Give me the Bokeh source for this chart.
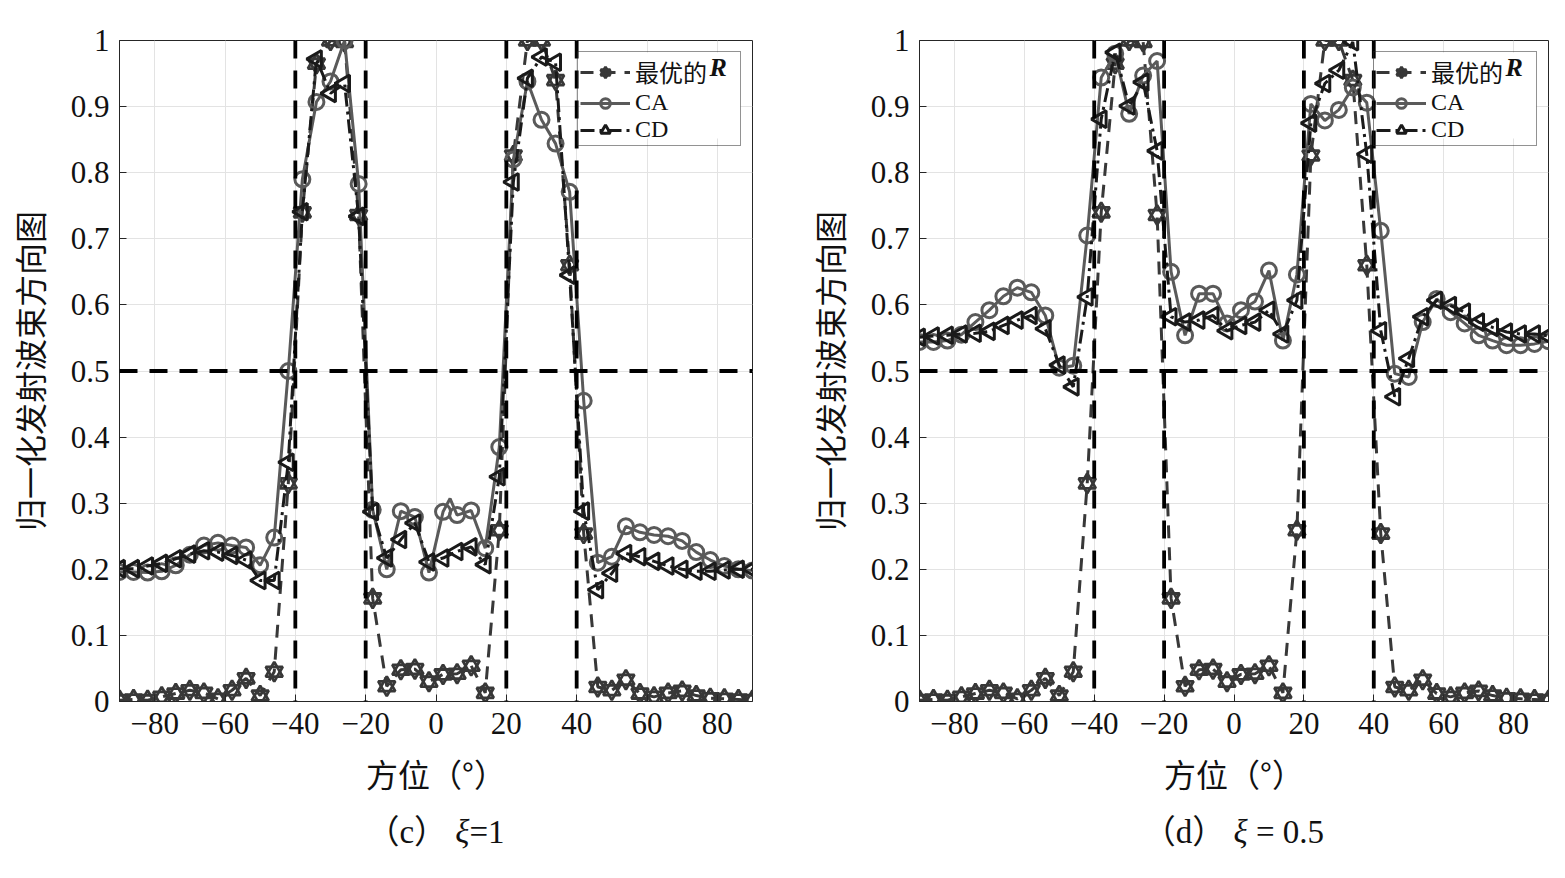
from bokeh.plotting import figure
from bokeh.models import (Range1d, FixedTicker, Legend, LegendItem, Label, BoxAnnotation,
                          Span, Div, ColumnDataSource)
from bokeh.layouts import row, column
from bokeh.embed import file_html
from bokeh.resources import INLINE

# ---------------- data ----------------
THETA = [-90, -86, -82, -78, -74, -70, -66, -62, -58, -54, -50, -46, -42, -38, -34, -30,
         -26, -22, -18, -14, -10, -6, -2, 2, 6, 10, 14, 18, 22, 26, 30, 34, 38, 42, 46,
         50, 54, 58, 62, 66, 70, 74, 78, 82, 86, 90]

# optimal R (same in both panels)
OPT_R = [0.002, 0.003, 0.002, 0.007, 0.012, 0.017, 0.013, 0.004, 0.017, 0.035, 0.009, 0.045,
         0.33, 0.74, 0.965, 1.0, 0.998, 0.736, 0.156, 0.023, 0.048, 0.049, 0.03, 0.041, 0.042,
         0.054, 0.013, 0.259, 0.826, 1.0, 1.0, 0.94, 0.66, 0.254, 0.022, 0.017, 0.033, 0.012,
         0.007, 0.013, 0.016, 0.009, 0.005, 0.004, 0.003, 0.002]

# panel (c) xi = 1
CA_C = [0.196, 0.196, 0.195, 0.197, 0.206, 0.222, 0.236, 0.24, 0.236, 0.233, 0.206, 0.248,
        0.5, 0.79, 0.907, 0.938, 1.0, 0.783, 0.29, 0.2, 0.288, 0.279, 0.195, 0.287, 0.282,
        0.289, 0.232, 0.385, 0.82, 0.938, 0.88, 0.844, 0.771, 0.455, 0.21, 0.219, 0.265,
        0.256, 0.252, 0.25, 0.243, 0.226, 0.214, 0.205, 0.2, 0.198]
CA_C_EXTRA_X = [4]
CA_C_EXTRA_Y = [0.307]
CD_C = [0.201, 0.201, 0.205, 0.209, 0.216, 0.223, 0.228, 0.226, 0.221, 0.214, 0.183, 0.183,
        0.362, 0.741, 0.972, 0.92, 0.935, 0.734, 0.287, 0.217, 0.245, 0.27, 0.211, 0.217,
        0.227, 0.234, 0.207, 0.34, 0.786, 0.943, 0.975, 0.967, 0.645, 0.288, 0.169, 0.194,
        0.224, 0.219, 0.212, 0.205, 0.2, 0.197, 0.197, 0.199, 0.2, 0.2]

# panel (d) xi = 0.5
CA_D = [0.544, 0.544, 0.546, 0.555, 0.574, 0.592, 0.613, 0.626, 0.619, 0.584, 0.505, 0.508,
        0.705, 0.944, 0.98, 0.889, 0.947, 0.969, 0.65, 0.554, 0.617, 0.617, 0.572, 0.592,
        0.605, 0.652, 0.546, 0.646, 0.904, 0.879, 0.895, 0.929, 0.906, 0.712, 0.496, 0.491,
        0.574, 0.609, 0.589, 0.572, 0.554, 0.546, 0.539, 0.539, 0.541, 0.545]
CA_D_EXTRA_X = []
CA_D_EXTRA_Y = []
CD_D = [0.551, 0.553, 0.554, 0.556, 0.557, 0.56, 0.569, 0.577, 0.584, 0.564, 0.509, 0.476,
        0.612, 0.881, 0.982, 0.901, 0.937, 0.833, 0.582, 0.574, 0.577, 0.584, 0.561, 0.569,
        0.574, 0.592, 0.556, 0.607, 0.875, 0.935, 0.955, 0.998, 0.828, 0.561, 0.461, 0.519,
        0.582, 0.607, 0.599, 0.589, 0.574, 0.566, 0.559, 0.556, 0.556, 0.553]

MAINLOBE_EDGES = [-40, -20, 20, 40]
THRESHOLD = 0.5

X_TICKS = [-80, -60, -40, -20, 0, 20, 40, 60, 80]
X_TICK_LABELS = ["\u221280", "\u221260", "\u221240", "\u221220", "0", "20", "40", "60", "80"]
Y_TICKS = [0, 0.1, 0.2, 0.3, 0.4, 0.5, 0.6, 0.7, 0.8, 0.9, 1]
Y_TICK_LABELS = ["0", "0.1", "0.2", "0.3", "0.4", "0.5", "0.6", "0.7", "0.8", "0.9", "1"]

LEGEND_LABELS = ["最优的", "CA", "CD"]
LEGEND_R = "R"
X_LABEL = "方位（°）"
Y_LABEL = "归一化发射波束方向图"
CAPTIONS = ["（c）&nbsp;<i>ξ</i>=1", "（d）&nbsp;<i>ξ</i>&nbsp;=&nbsp;0.5"]

# ---------------- style ----------------
SERIF = "'Liberation Serif', 'Noto Sans CJK SC'"
CJK = "'Noto Sans CJK SC'"
C_OPT = "#383838"
C_CA = "#5a5a5a"
C_CD = "#1a1a1a"
AX = "#262626"

FRAME_H = 661
TOP = 40
BOTTOM = 100
LEG_FS = 24
LEG_MARGIN = 11
LEG_PAD = 2
LEG_GLYPH_W = 50
LEG_STANDOFF = 5
LEG_LABEL_W = 103
LEG_BOX_H = 88


def merged(xs, ys, ex, ey):
    pts = sorted(list(zip(xs, ys)) + list(zip(ex, ey)))
    return [p[0] for p in pts], [p[1] for p in pts]


def make_fig(ca, cd, ca_ex_x, ca_ex_y, bl, fw, br):
    p = figure(width=bl + fw + br, height=TOP + FRAME_H + BOTTOM,
               x_range=Range1d(-90, 90), y_range=Range1d(0, 1),
               output_backend="svg", toolbar_location=None,
               min_border_left=bl, min_border_right=br,
               min_border_top=TOP, min_border_bottom=BOTTOM)
    p.background_fill_color = "white"
    p.outline_line_color = AX
    p.outline_line_width = 1

    xt = FixedTicker(ticks=X_TICKS)
    yt = FixedTicker(ticks=Y_TICKS)
    p.xaxis.ticker = xt
    p.yaxis.ticker = yt
    p.xgrid.ticker = xt
    p.ygrid.ticker = yt
    p.grid.grid_line_color = "#e3e3e3"
    p.grid.grid_line_width = 1
    p.xaxis.major_label_overrides = dict(zip(X_TICKS, X_TICK_LABELS))
    p.yaxis.major_label_overrides = dict(zip(Y_TICKS, Y_TICK_LABELS))

    for ax in (p.xaxis, p.yaxis):
        ax.axis_line_color = AX
        ax.major_tick_line_color = AX
        ax.major_tick_in = 7
        ax.major_tick_out = 0
        ax.minor_tick_line_color = None
        ax.major_label_text_font = "Liberation Serif"
        ax.major_label_text_font_size = "31px"
        ax.major_label_text_color = "#111111"
        ax.axis_label_text_font = CJK
        ax.axis_label_text_font_size = "32px"
        ax.axis_label_text_font_style = "normal"
        ax.axis_label_text_color = "#111111"
    p.xaxis.major_label_standoff = 11
    p.yaxis.major_label_standoff = 10
    p.xaxis.axis_label = X_LABEL
    p.yaxis.axis_label = Y_LABEL
    p.xaxis.axis_label_standoff = 13
    p.yaxis.axis_label_standoff = 16

    # optimal R: dashed with hexagram markers
    src_opt = ColumnDataSource(dict(x=THETA, y=OPT_R))
    l_opt = p.line("x", "y", source=src_opt, line_color=C_OPT, line_width=3,
                   line_dash="13 9")
    m_opt1 = p.scatter("x", "y", source=src_opt, marker="triangle", size=17,
                       line_color=C_OPT, line_width=2.8, fill_alpha=0)
    m_opt2 = p.scatter("x", "y", source=src_opt, marker="inverted_triangle", size=17,
                       line_color=C_OPT, line_width=2.8, fill_alpha=0)

    # CA: solid with circles
    lx, ly = merged(THETA, ca, ca_ex_x, ca_ex_y)
    l_ca = p.line(lx, ly, line_color=C_CA, line_width=3)
    m_ca = p.scatter(THETA, ca, marker="circle", size=15, line_color=C_CA,
                     line_width=3, fill_alpha=0)

    # CD: dash-dot with left-pointing triangles
    l_cd = p.line(THETA, cd, line_color=C_CD, line_width=3, line_dash="14 5 3 5")
    m_cd = p.scatter(THETA, cd, marker="triangle", angle=1.5708, size=17,
                     line_color=C_CD, line_width=3, fill_alpha=0)

    # desired pattern edges and half-power threshold
    for e in MAINLOBE_EDGES:
        p.add_layout(Span(location=e, dimension="height", line_color="black",
                          line_width=3.8, line_dash="18 12"))
    p.add_layout(Span(location=THRESHOLD, dimension="width", line_color="black",
                      line_width=3.8, line_dash="18 12"))

    # legend geometry in pixels (from the top-right corner of the frame)
    leg_w = 2 * LEG_PAD + LEG_GLYPH_W + LEG_STANDOFF + LEG_LABEL_W
    px_to_x = lambda px: -90 + 180 * px / fw
    px_to_y = lambda py: 1 - py / FRAME_H

    # white backing box of the legend (legend itself is drawn transparent)
    p.add_layout(BoxAnnotation(left=px_to_x(fw - LEG_MARGIN - leg_w + 1),
                               right=px_to_x(fw - LEG_MARGIN - 1),
                               top=px_to_y(LEG_MARGIN + 1),
                               bottom=px_to_y(LEG_MARGIN + LEG_BOX_H - 1),
                               fill_color="white", fill_alpha=1, line_color=None))

    leg = Legend(items=[LegendItem(label=LEGEND_LABELS[0], renderers=[l_opt, m_opt1, m_opt2]),
                        LegendItem(label=LEGEND_LABELS[1], renderers=[l_ca, m_ca]),
                        LegendItem(label=LEGEND_LABELS[2], renderers=[l_cd, m_cd])],
                 location="top_right")
    leg.label_text_font = SERIF
    leg.label_text_font_size = f"{LEG_FS}px"
    leg.label_text_color = "#111111"
    leg.glyph_width = LEG_GLYPH_W
    leg.glyph_height = 24
    leg.label_height = 24
    leg.label_width = LEG_LABEL_W
    leg.label_standoff = LEG_STANDOFF
    leg.spacing = 0
    leg.padding = LEG_PAD
    leg.margin = LEG_MARGIN
    leg.border_line_color = AX
    leg.border_line_width = 1
    leg.background_fill_alpha = 0
    p.add_layout(leg)

    # bold italic R following the first legend label
    rx_px = fw - LEG_MARGIN - LEG_PAD - LEG_LABEL_W + 3 * LEG_FS + 1
    ry_px = LEG_MARGIN + LEG_PAD + 14
    p.add_layout(Label(x=px_to_x(rx_px), y=px_to_y(ry_px), text=LEGEND_R,
                       text_font="Liberation Serif", text_font_style="bold italic",
                       text_font_size=f"{LEG_FS + 2}px", text_baseline="middle",
                       text_align="left", text_color="#111111"))
    return p


p1 = make_fig(CA_C, CD_C, CA_C_EXTRA_X, CA_C_EXTRA_Y, 119, 633, 46)
p2 = make_fig(CA_D, CD_D, CA_D_EXTRA_X, CA_D_EXTRA_Y, 121, 629, 10)

cap_style = ("text-align:center;font-family:'Liberation Serif','Noto Sans CJK SC';"
             "font-size:33px;color:#111;padding-top:8px;")
d1 = Div(text=f'<div style="width:633px;margin-left:119px;{cap_style}">{CAPTIONS[0]}</div>',
         width=p1.width, height=60, margin=(0, 0, 0, 0))
d2 = Div(text=f'<div style="width:629px;margin-left:121px;{cap_style}">{CAPTIONS[1]}</div>',
         width=p2.width, height=60, margin=(0, 0, 0, 0))

layout = column(row(p1, p2), row(d1, d2))
open("out.html", "w").write(file_html(layout, INLINE))
